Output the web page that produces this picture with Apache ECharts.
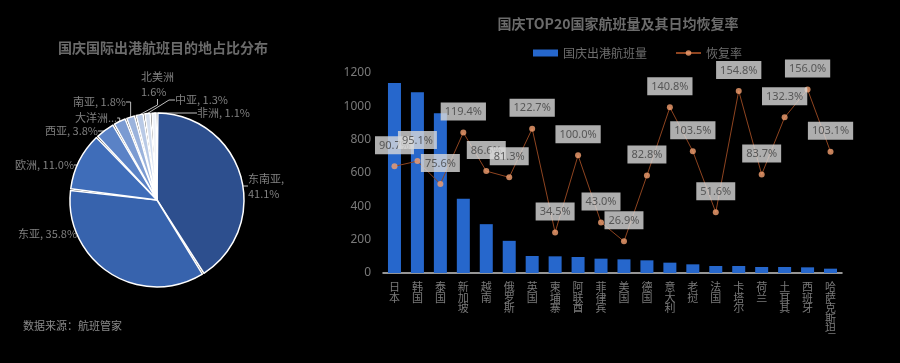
<!DOCTYPE html>
<html><head><meta charset="utf-8">
<script src="https://cdn.jsdelivr.net/npm/echarts@6/dist/echarts.min.js"></script>
<style>html,body{margin:0;padding:0;background:#000;}#c{width:900px;height:363px;}</style>
</head><body><div id="c"></div>
<script>
const regionNames = ['东南亚','东亚','欧洲','西亚','大洋洲','南亚','北美洲','中亚','非洲'];
const regionShares = [41.1, 35.8, 11.0, 3.8, 2.5, 1.8, 1.6, 1.3, 1.1];
const regionColors = ['#2d4f8e','#3763ad','#3f6db9','#5a82c6','#7b9bd2','#9bb3dc','#b9cae6','#d6e0f0','#eef2f9'];

const countries = ['日本','韩国','泰国','新加坡','越南','俄罗斯','英国','柬埔寨','阿联酋','菲律宾','美国','德国','意大利','老挝','法国','卡塔尔','荷兰','土耳其','西班牙','哈萨克斯坦'];
const flights = [1140, 1084, 958, 445, 293, 193, 102, 100, 96, 86, 82, 76, 62, 52, 42, 42, 36, 36, 34, 26];
const recovery = [90.7, 95.1, 75.6, 119.4, 86.6, 81.3, 122.7, 34.5, 100.0, 43.0, 26.9, 82.8, 140.8, 103.5, 51.6, 154.8, 83.7, 132.3, 156.0, 103.1];
const yTicks = [0, 200, 400, 600, 800, 1000, 1200];

const pieLabelPos = {
  0: [248, 186], 1: [18, 234], 2: [15, 165], 3: [45, 131], 4: [75, 118],
  5: [73, 102], 6: [141, 84], 7: [175, 100], 8: [197, 113]
};

const chart = echarts.init(document.getElementById('c'));
chart.setOption({
  backgroundColor: '#000',
  animation: false,
  title: [
    {text: '国庆国际出港航班目的地占比分布', left: 158, top: 36, textAlign: 'center',
     textStyle: {color: '#6b6b6b', fontSize: 14, fontWeight: 'bold', fontFamily: 'Noto Sans CJK SC'}},
    {text: '国庆TOP20国家航班量及其日均恢复率', left: 613, top: 12, textAlign: 'center',
     textStyle: {color: '#6b6b6b', fontSize: 14, fontWeight: 'bold', fontFamily: 'Noto Sans CJK SC'}},
    {text: '数据来源：航班管家', left: 18, top: 315,
     textStyle: {color: '#8a8a8a', fontSize: 11, fontWeight: 'normal', fontFamily: 'Noto Sans CJK SC'}}
  ],
  legend: {
    top: 42, left: 528, itemGap: 28,
    textStyle: {color: '#6e6e6e', fontSize: 12, fontFamily: 'Noto Sans CJK SC'},
    data: [
      {name: '国庆出港航班量', icon: 'rect', itemStyle: {color: '#2667cc'}},
      {name: '恢复率'}
    ],
    itemWidth: 25, itemHeight: 7
  },
  grid: {left: 383, right: 58, top: 73, bottom: 90},
  xAxis: {
    type: 'category', data: countries,
    axisLine: {lineStyle: {color: '#c8c8c8', width: 1.5}},
    axisTick: {show: false},
    axisLabel: {
      interval: 0, color: '#7a7a7a', fontSize: 11, lineHeight: 10.5, margin: 9,
      fontFamily: 'Noto Sans CJK SC', verticalAlign: 'top',
      formatter: v => v.split('').join('\n')
    }
  },
  yAxis: [
    {type: 'value', min: yTicks[0], max: yTicks[yTicks.length - 1], interval: 200,
     axisLine: {show: false}, axisTick: {show: false}, splitLine: {show: false},
     axisLabel: {color: '#7a7a7a', fontSize: 12, margin: 12, fontFamily: 'Noto Sans',
                 formatter: v => String(v)}},
    {type: 'value', min: 0, max: 170, show: false, splitLine: {show: false}}
  ],
  series: [
    {
      type: 'pie', name: '分布', center: [157, 200], radius: 87,
      startAngle: 90, clockwise: true, padAngle: 1.2,
      data: regionNames.map((n, i) => ({name: n, value: regionShares[i], itemStyle: {color: regionColors[i]}})),
      itemStyle: {borderColor: '#fff', borderWidth: 1.5},
      label: {
        color: '#808080', fontSize: 11, lineHeight: 15, fontFamily: 'Noto Sans CJK SC',
        overflow: 'none', alignTo: 'none', edgeDistance: 0, bleedMargin: 0,
        formatter: p => {
          const v = p.value.toFixed(1) + '%';
          if (p.name === '东南亚') return p.name + ',\n' + v;
          if (p.name === '北美洲') return p.name + '\n' + v;
          if (p.name === '大洋洲') return p.name + '...';
          return p.name + ', ' + v;
        }
      },
      labelLine: {length: 8, length2: 6, lineStyle: {color: '#bfbfbf', width: 1}},
      labelLayout: p => {
        const pos = pieLabelPos[p.dataIndex];
        return {x: pos[0], y: pos[1], align: 'left', verticalAlign: 'middle'};
      }
    },
    {
      type: 'bar', name: '国庆出港航班量', data: flights, barWidth: 13,
      itemStyle: {color: '#2667cc'}
    },
    {
      type: 'line', name: '恢复率', yAxisIndex: 1, data: recovery,
      symbol: 'circle', symbolSize: 6,
      lineStyle: {color: '#8e4420', width: 1},
      itemStyle: {color: '#f4a070', opacity: 0.8},
      label: {
        show: true, position: 'top', distance: 9,
        formatter: p => p.value.toFixed(1) + '%',
        color: '#404040', fontSize: 11, fontFamily: 'Noto Sans',
        backgroundColor: '#d9d9d9', padding: [4, 4, 3, 4]
      }
    }
  ]
});
</script></body></html>
